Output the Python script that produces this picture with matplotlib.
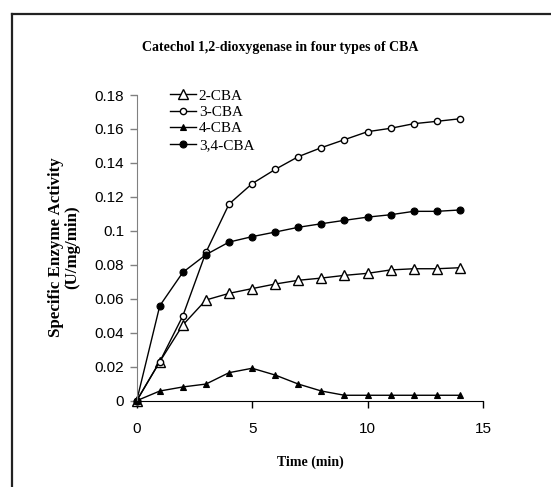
import matplotlib
matplotlib.use("Agg")
import matplotlib.pyplot as plt
from matplotlib.lines import Line2D

time_min = [0, 1, 2, 3, 4, 5, 6, 7, 8, 9, 10, 11, 12, 13, 14]
cba_2 = [0, 0.023, 0.0446, 0.0593, 0.0632, 0.0660, 0.0687, 0.0709, 0.0722, 0.0738, 0.0750, 0.0770, 0.0777, 0.0777, 0.0783]
cba_3 = [0, 0.023, 0.050, 0.0874, 0.1158, 0.1278, 0.1362, 0.1437, 0.1490, 0.1537, 0.1584, 0.1604, 0.1631, 0.1645, 0.1660]
cba_4 = [0, 0.0057, 0.0081, 0.0098, 0.0165, 0.0191, 0.0151, 0.0098, 0.0057, 0.0032, 0.0032, 0.0032, 0.0032, 0.0032, 0.0032]
cba_34 = [0, 0.0559, 0.0756, 0.0860, 0.0934, 0.0966, 0.0993, 0.1021, 0.1042, 0.1062, 0.1081, 0.1095, 0.1115, 0.1115, 0.1123]
series_names = ["2-CBA", "3-CBA", "4-CBA", "3,4-CBA"]
y_ticks = [0, 0.02, 0.04, 0.06, 0.08, 0.10, 0.12, 0.14, 0.16, 0.18]
y_tick_labels = ["0", "0.02", "0.04", "0.06", "0.08", "0.1", "0.12", "0.14", "0.16", "0.18"]
x_ticks = [0, 5, 10, 15]

W, H = 551, 487
fig = plt.figure(figsize=(W / 100, H / 100), dpi=100)
fig.patch.set_facecolor("white")

# outer frame (left and top edges visible)
fig.add_artist(Line2D([12 / W, 12 / W], [0, 1 - 14 / H], transform=fig.transFigure, color="#222222", lw=1.6))
fig.add_artist(Line2D([12 / W, 1], [1 - 14 / H, 1 - 14 / H], transform=fig.transFigure, color="#222222", lw=1.6))

x0, x1 = 136.7, 483.0
ytop, ybot = 95.0, 400.7
ax = fig.add_axes([x0 / W, 1 - ybot / H, (x1 - x0) / W, (ybot - ytop) / H])

styles = [
    dict(marker="^", mfc="white", mec="black", ms=7, mew=1.0),
    dict(marker="o", mfc="white", mec="black", ms=4.5, mew=1.0),
    dict(marker="^", mfc="black", mec="black", ms=5, mew=0.8),
    dict(marker="o", mfc="black", mec="black", ms=5, mew=0.8),
]
for ys, name, st in zip([cba_2, cba_3, cba_4, cba_34], series_names, styles):
    ax.plot(time_min, ys, color="black", lw=1.0, label=name, clip_on=False, **st)

ax.set_xlim(0, 15)
ax.set_ylim(0, 0.18)
ax.set_xticks(x_ticks)
ax.set_xticklabels([str(t) for t in x_ticks])
ax.set_yticks(y_ticks)
ax.set_yticklabels(y_tick_labels)
for s in ["top", "right"]:
    ax.spines[s].set_visible(False)
ax.spines["left"].set_color("#808080")
ax.spines["bottom"].set_color("black")
ax.tick_params(axis="both", direction="out", length=5, width=1, labelsize=11, pad=4)
ax.tick_params(axis="y", colors="#808080", labelcolor="black")
ax.tick_params(axis="x", pad=10)
for lab in ax.get_xticklabels() + ax.get_yticklabels():
    lab.set_fontfamily("Liberation Sans")

serif = "Liberation Serif"
fig.text(280 / W, 1 - 48 / H, "Catechol 1,2-dioxygenase in four types of CBA",
         ha="center", va="center", fontsize=10, fontweight="bold", family=serif)
fig.text(64 / W, 1 - 247 / H, "Specific Enzyme Activity\n(U/mg/min)", rotation=90,
         ha="center", va="center", fontsize=12.2, fontweight="bold", family=serif, linespacing=1.05)
fig.text(310 / W, 1 - 462 / H, "Time (min)", ha="center", va="center",
         fontsize=10, fontweight="bold", family=serif)

leg = ax.legend(loc="upper left", bbox_to_anchor=(0.078, 1.04), frameon=False,
                prop={"family": serif, "size": 11}, handlelength=1.7, handletextpad=0.2,
                labelspacing=0.18, borderaxespad=0)

fig.savefig("out.png", dpi=100, facecolor="white")
